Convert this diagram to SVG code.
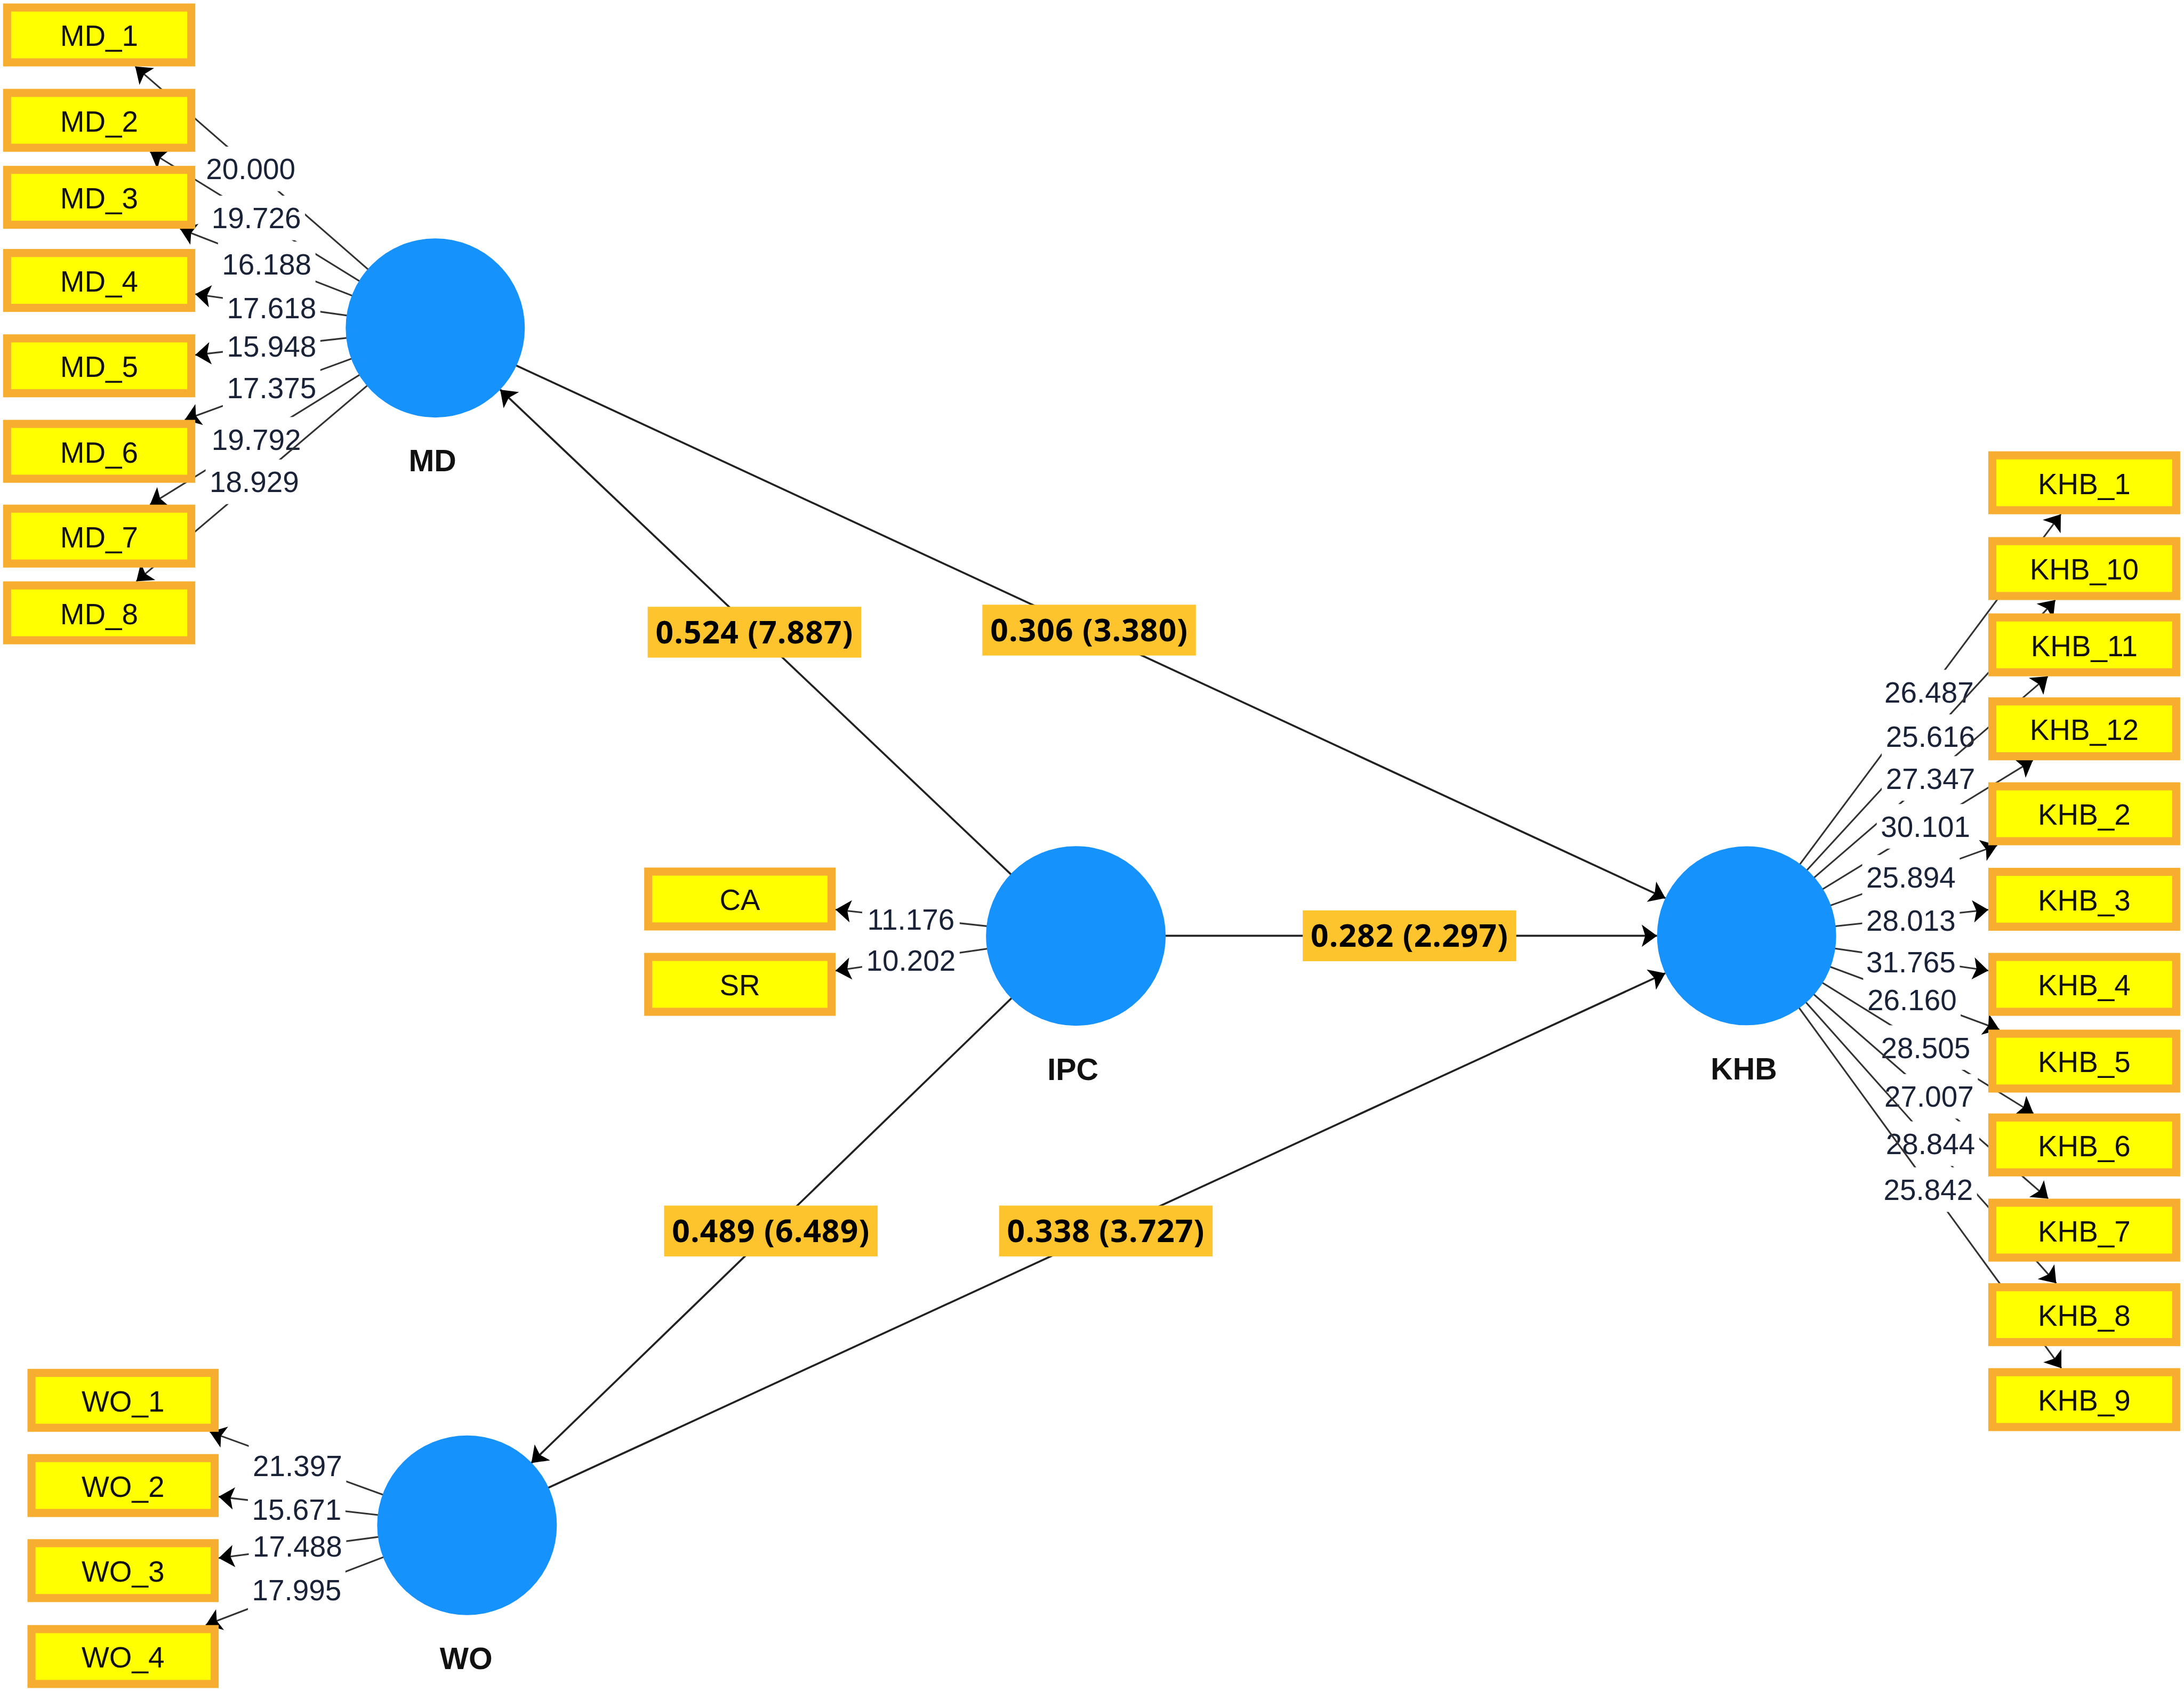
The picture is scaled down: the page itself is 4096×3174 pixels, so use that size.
<svg xmlns="http://www.w3.org/2000/svg" width="4096" height="3174" viewBox="0 0 4096 3174">
<defs>
<style>
.ind rect{fill:#FFFF00;stroke:#F7AE30;stroke-width:5.8}
.ind text{font-family:"Liberation Sans",Arial,sans-serif;font-size:21px;fill:#111;text-anchor:middle}
.lv circle{fill:#1592FB}
.lv text{font-family:"Liberation Sans",Arial,sans-serif;font-weight:bold;font-size:22px;fill:#111;text-anchor:middle}
.ld line{stroke:#333;stroke-width:1.2;fill:none}
.ld rect{fill:#fff}
.ld text{font-family:"Liberation Sans",Arial,sans-serif;font-size:21px;fill:#1a2238;text-anchor:middle}
.pc line{stroke:#222;stroke-width:1.4;fill:none}
.pc rect{fill:#FDC42E}
.pc text{font-family:"Open Sans","Liberation Sans",sans-serif;font-weight:700;font-size:22.5px;letter-spacing:0.4px;fill:#000;text-anchor:middle}
</style>
<marker id="ah" markerUnits="userSpaceOnUse" markerWidth="14" markerHeight="18" viewBox="-12 -9 14 18" refX="0" refY="0" orient="auto" overflow="visible">
<path d="M0,0 L-11,-8 L-8.5,0 L-11,8 Z" fill="#000"/>
</marker>
</defs>
<rect x="0" y="0" width="4096" height="3174" fill="#fff"/>
<g transform="scale(2.6122)">
<g id="connectors">
<g class="ld">
<g><line x1="312.5" y1="235.5" x2="97.1" y2="47.7" marker-end="url(#ah)"/><rect x="145" y="105.3" width="70" height="32"/><text x="180" y="128.8">20.000</text></g>
<g><line x1="312.5" y1="235.5" x2="107.8" y2="109" marker-end="url(#ah)"/><rect x="149" y="140.5" width="70" height="32"/><text x="184" y="164">19.726</text></g>
<g><line x1="312.5" y1="235.5" x2="129.3" y2="164.3" marker-end="url(#ah)"/><rect x="156.5" y="173.5" width="70" height="32"/><text x="191.5" y="197">16.188</text></g>
<g><line x1="312.5" y1="235.5" x2="140.2" y2="211.2" marker-end="url(#ah)"/><rect x="160" y="205" width="70" height="32"/><text x="195" y="228.5">17.618</text></g>
<g><line x1="312.5" y1="235.5" x2="140.2" y2="254.9" marker-end="url(#ah)"/><rect x="160" y="232.7" width="70" height="32"/><text x="195" y="256.2">15.948</text></g>
<g><line x1="312.5" y1="235.5" x2="132.7" y2="301.5" marker-end="url(#ah)"/><rect x="160" y="262.3" width="70" height="32"/><text x="195" y="285.8">17.375</text></g>
<g><line x1="312.5" y1="235.5" x2="107.7" y2="362.4" marker-end="url(#ah)"/><rect x="149" y="299.5" width="70" height="32"/><text x="184" y="323">19.792</text></g>
<g><line x1="312.5" y1="235.5" x2="97.9" y2="417.5" marker-end="url(#ah)"/><rect x="147.6" y="330" width="70" height="32"/><text x="182.6" y="353.5">18.929</text></g>

<g><line x1="772.4" y1="672.1" x2="599.9" y2="653.2" marker-end="url(#ah)"/><rect x="619" y="644.2" width="70" height="32"/><text x="654" y="667.7">11.176</text></g>
<g><line x1="772.4" y1="672.1" x2="599.9" y2="697.1" marker-end="url(#ah)"/><rect x="619" y="673.5" width="70" height="32"/><text x="654" y="697">10.202</text></g>

<g><line x1="335.3" y1="1095.3" x2="150.7" y2="1028.3" marker-end="url(#ah)"/><rect x="178.6" y="1036.6" width="70" height="32"/><text x="213.6" y="1060.1">21.397</text></g>
<g><line x1="335.3" y1="1095.3" x2="157" y2="1074.8" marker-end="url(#ah)"/><rect x="178" y="1067.8" width="70" height="32"/><text x="213" y="1091.3">15.671</text></g>
<g><line x1="335.3" y1="1095.3" x2="157" y2="1118.9" marker-end="url(#ah)"/><rect x="178.6" y="1094.3" width="70" height="32"/><text x="213.6" y="1117.8">17.488</text></g>
<g><line x1="335.3" y1="1095.3" x2="147.7" y2="1167" marker-end="url(#ah)"/><rect x="178" y="1125.7" width="70" height="32"/><text x="213" y="1149.2">17.995</text></g>

<g><line x1="1254" y1="672" x2="1479.6" y2="369.3" marker-end="url(#ah)"/><rect x="1350" y="481" width="70" height="32"/><text x="1385" y="504.5">26.487</text></g>
<g><line x1="1254" y1="672" x2="1475.6" y2="430.9" marker-end="url(#ah)"/><rect x="1351" y="513" width="70" height="32"/><text x="1386" y="536.5">25.616</text></g>
<g><line x1="1254" y1="672" x2="1470.2" y2="485.7" marker-end="url(#ah)"/><rect x="1351" y="543" width="70" height="32"/><text x="1386" y="566.5">27.347</text></g>
<g><line x1="1254" y1="672" x2="1459.5" y2="546" marker-end="url(#ah)"/><rect x="1347.4" y="577.4" width="70" height="32"/><text x="1382.4" y="600.9">30.101</text></g>
<g><line x1="1254" y1="672" x2="1433.9" y2="607" marker-end="url(#ah)"/><rect x="1337" y="614" width="70" height="32"/><text x="1372" y="637.5">25.894</text></g>
<g><line x1="1254" y1="672" x2="1427.5" y2="653.3" marker-end="url(#ah)"/><rect x="1337" y="644.8" width="70" height="32"/><text x="1372" y="668.3">28.013</text></g>
<g><line x1="1254" y1="672" x2="1427.5" y2="697" marker-end="url(#ah)"/><rect x="1337" y="674.7" width="70" height="32"/><text x="1372" y="698.2">31.765</text></g>
<g><line x1="1254" y1="672" x2="1435.5" y2="739.4" marker-end="url(#ah)"/><rect x="1337.7" y="701.8" width="70" height="32"/><text x="1372.7" y="725.3">26.160</text></g>
<g><line x1="1254" y1="672" x2="1459.9" y2="799.6" marker-end="url(#ah)"/><rect x="1347.5" y="736.3" width="70" height="32"/><text x="1382.5" y="759.8">28.505</text></g>
<g><line x1="1254" y1="672" x2="1470.5" y2="860.8" marker-end="url(#ah)"/><rect x="1350" y="771.3" width="70" height="32"/><text x="1385" y="794.8">27.007</text></g>
<g><line x1="1254" y1="672" x2="1476.3" y2="921.5" marker-end="url(#ah)"/><rect x="1351" y="805.3" width="70" height="32"/><text x="1386" y="828.8">28.844</text></g>
<g><line x1="1254" y1="672" x2="1480" y2="982.5" marker-end="url(#ah)"/><rect x="1349.4" y="838.3" width="70" height="32"/><text x="1384.4" y="861.8">25.842</text></g>
</g>
<g class="pc">
<g><line x1="772.4" y1="672.1" x2="359.1" y2="279.8" marker-end="url(#ah)"/><rect x="465" y="435.75" width="153.3" height="36.5"/><text x="541.7" y="462">0.524 (7.887)</text></g>
<g><line x1="312.5" y1="235.5" x2="1195.7" y2="645" marker-end="url(#ah)"/><rect x="705.3" y="434.25" width="153.3" height="36.5"/><text x="782" y="460.5">0.306 (3.380)</text></g>
<g><line x1="772.4" y1="672" x2="1189.7" y2="672" marker-end="url(#ah)"/><rect x="935.3" y="653.75" width="153.3" height="36.5"/><text x="1012" y="680">0.282 (2.297)</text></g>
<g><line x1="772.4" y1="672.1" x2="381.5" y2="1050.6" marker-end="url(#ah)"/><rect x="476.8" y="865.75" width="153.3" height="36.5"/><text x="553.5" y="892">0.489 (6.489)</text></g>
<g><line x1="335.3" y1="1095.3" x2="1195.6" y2="698.9" marker-end="url(#ah)"/><rect x="717.3" y="865.75" width="153.3" height="36.5"/><text x="794" y="892">0.338 (3.727)</text></g>
</g>
</g>

<g id="MD" class="lv"><circle cx="312.5" cy="235.5" r="64.3"/><text x="310.5" y="338.6">MD</text></g>
<g id="IPC" class="lv"><circle cx="772.4" cy="672.1" r="64.5"/><text x="770.3" y="775.4">IPC</text></g>
<g id="KHB" class="lv"><circle cx="1254" cy="672" r="64.3"/><text x="1252" y="775.2">KHB</text></g>
<g id="WO" class="lv"><circle cx="335.3" cy="1095.3" r="64.5"/><text x="334.7" y="1198.5">WO</text></g>

<g id="MD_1" class="ind"><rect x="5.1" y="5.4" width="132.2" height="39.4"/><text x="71.2" y="33.1">MD_1</text></g>
<g id="MD_2" class="ind"><rect x="5.1" y="66.7" width="132.2" height="39.4"/><text x="71.2" y="94.4">MD_2</text></g>
<g id="MD_3" class="ind"><rect x="5.1" y="122" width="132.2" height="39.4"/><text x="71.2" y="149.7">MD_3</text></g>
<g id="MD_4" class="ind"><rect x="5.1" y="181.7" width="132.2" height="39.4"/><text x="71.2" y="209.4">MD_4</text></g>
<g id="MD_5" class="ind"><rect x="5.1" y="243" width="132.2" height="39.4"/><text x="71.2" y="270.7">MD_5</text></g>
<g id="MD_6" class="ind"><rect x="5.1" y="304.4" width="132.2" height="39.4"/><text x="71.2" y="332.1">MD_6</text></g>
<g id="MD_7" class="ind"><rect x="5.1" y="365.3" width="132.2" height="39.4"/><text x="71.2" y="393">MD_7</text></g>
<g id="MD_8" class="ind"><rect x="5.1" y="420.4" width="132.2" height="39.4"/><text x="71.2" y="448.1">MD_8</text></g>

<g id="CA" class="ind"><rect x="465.4" y="625.9" width="131.6" height="39.4"/><text x="531.2" y="653.6">CA</text></g>
<g id="SR" class="ind"><rect x="465.4" y="687.2" width="131.6" height="39.4"/><text x="531.2" y="714.9">SR</text></g>

<g id="WO_1" class="ind"><rect x="22.6" y="985.9" width="131.5" height="39.4"/><text x="88.35" y="1013.6">WO_1</text></g>
<g id="WO_2" class="ind"><rect x="22.6" y="1047.1" width="131.5" height="39.4"/><text x="88.35" y="1074.8">WO_2</text></g>
<g id="WO_3" class="ind"><rect x="22.6" y="1108.2" width="131.5" height="39.4"/><text x="88.35" y="1135.9">WO_3</text></g>
<g id="WO_4" class="ind"><rect x="22.6" y="1169.9" width="131.5" height="39.4"/><text x="88.35" y="1197.6">WO_4</text></g>

<g id="KHB_1" class="ind"><rect x="1430.4" y="327" width="132" height="39.4"/><text x="1496.4" y="354.7">KHB_1</text></g>
<g id="KHB_10" class="ind"><rect x="1430.4" y="388.6" width="132" height="39.4"/><text x="1496.4" y="416.3">KHB_10</text></g>
<g id="KHB_11" class="ind"><rect x="1430.4" y="443.4" width="132" height="39.4"/><text x="1496.4" y="471.1">KHB_11</text></g>
<g id="KHB_12" class="ind"><rect x="1430.4" y="503.7" width="132" height="39.4"/><text x="1496.4" y="531.4">KHB_12</text></g>
<g id="KHB_2" class="ind"><rect x="1430.4" y="564.7" width="132" height="39.4"/><text x="1496.4" y="592.4">KHB_2</text></g>
<g id="KHB_3" class="ind"><rect x="1430.4" y="626.1" width="132" height="39.4"/><text x="1496.4" y="653.8">KHB_3</text></g>
<g id="KHB_4" class="ind"><rect x="1430.4" y="687.2" width="132" height="39.4"/><text x="1496.4" y="714.9">KHB_4</text></g>
<g id="KHB_5" class="ind"><rect x="1430.4" y="742.3" width="132" height="39.4"/><text x="1496.4" y="770">KHB_5</text></g>
<g id="KHB_6" class="ind"><rect x="1430.4" y="802.5" width="132" height="39.4"/><text x="1496.4" y="830.2">KHB_6</text></g>
<g id="KHB_7" class="ind"><rect x="1430.4" y="863.7" width="132" height="39.4"/><text x="1496.4" y="891.4">KHB_7</text></g>
<g id="KHB_8" class="ind"><rect x="1430.4" y="924.4" width="132" height="39.4"/><text x="1496.4" y="952.1">KHB_8</text></g>
<g id="KHB_9" class="ind"><rect x="1430.4" y="985.4" width="132" height="39.4"/><text x="1496.4" y="1013.1">KHB_9</text></g>
</g>
</svg>
